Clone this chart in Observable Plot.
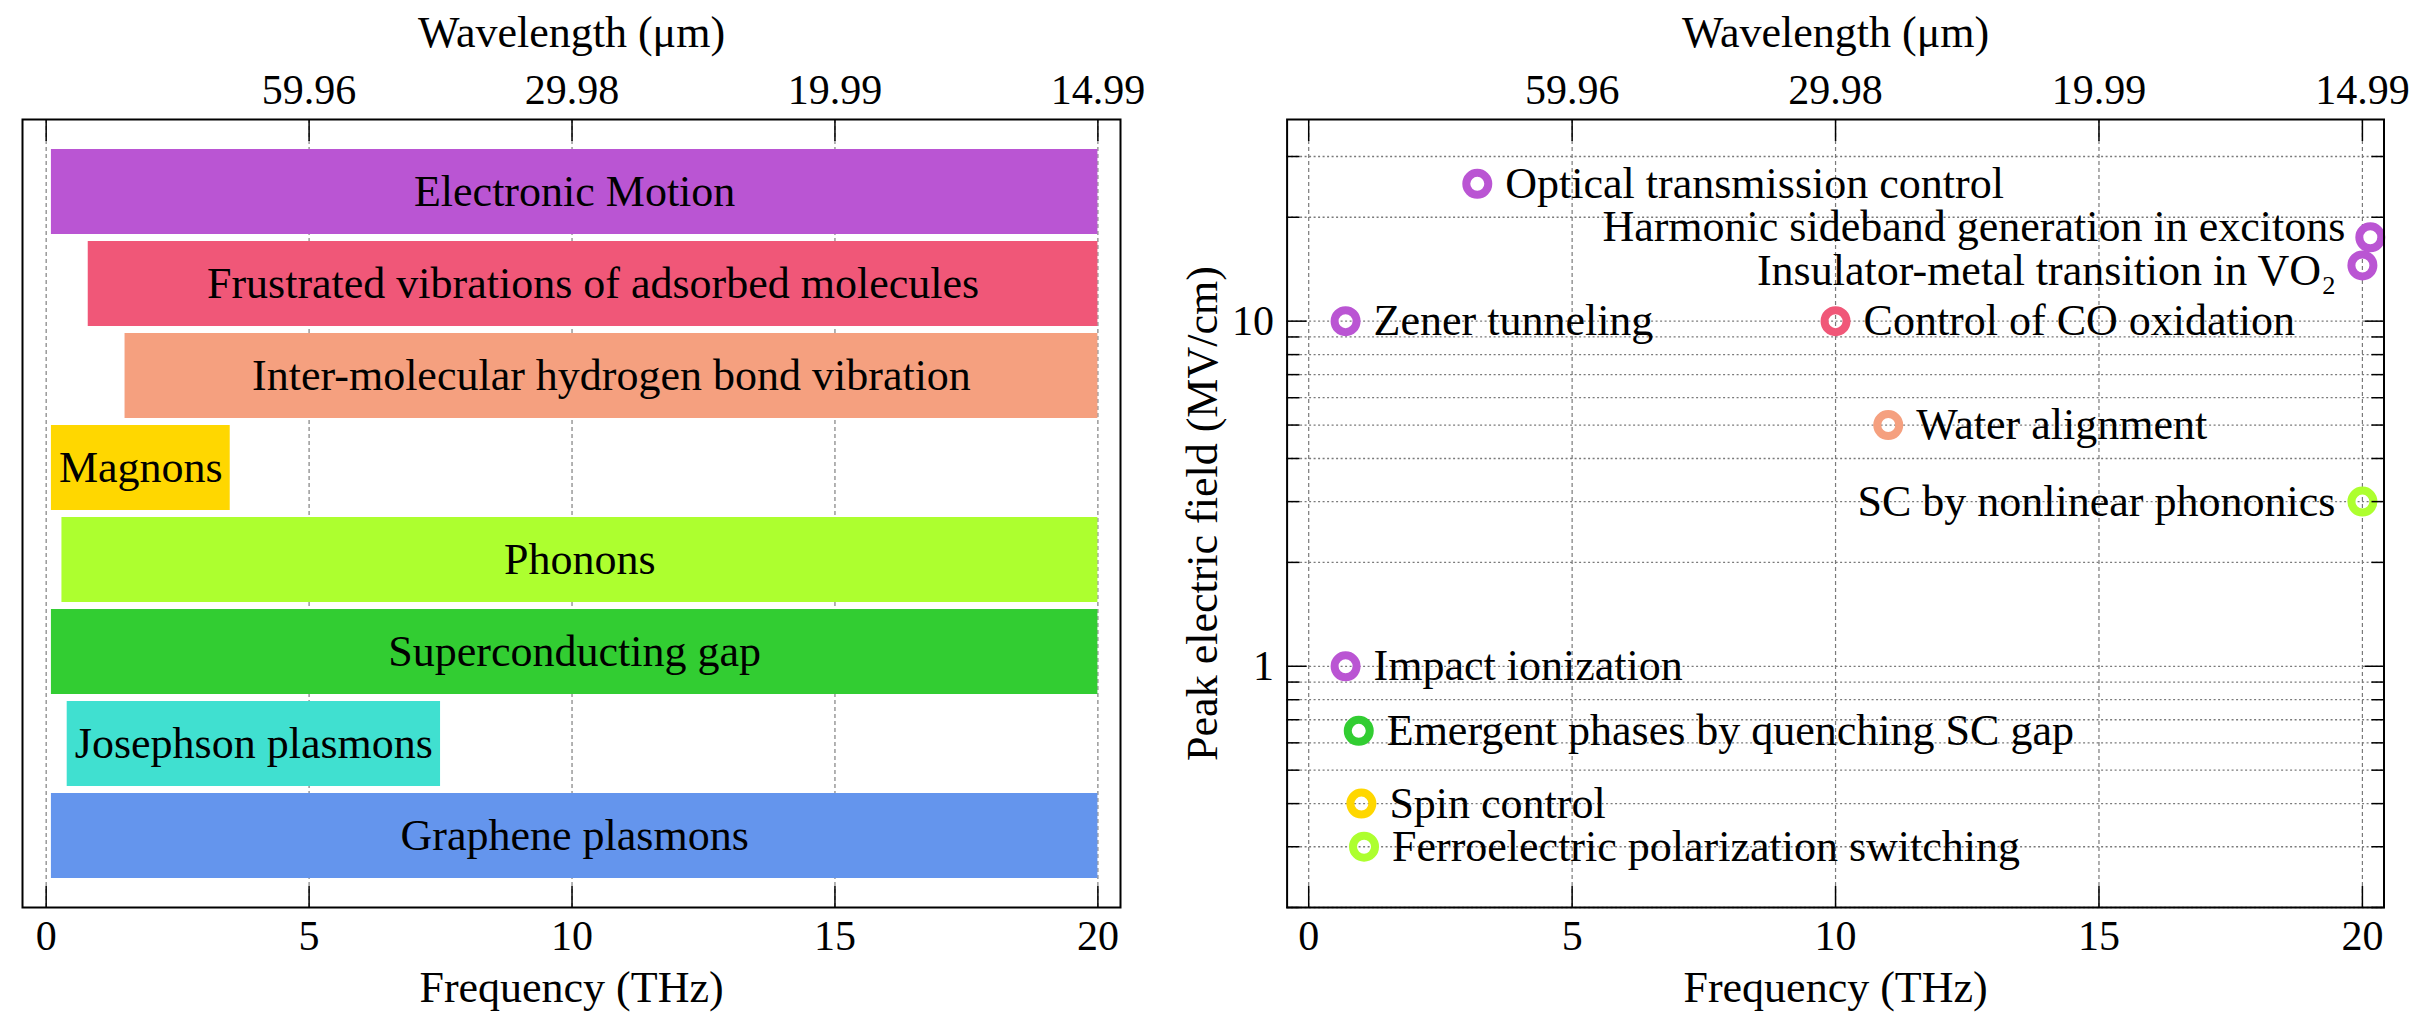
<!DOCTYPE html>
<html><head><meta charset="utf-8">
<script src="https://cdn.jsdelivr.net/npm/d3@7"></script>
<script src="https://cdn.jsdelivr.net/npm/@observablehq/plot@0.6"></script>
<style>
html,body{margin:0;padding:0;background:#fff;}
#wrap{display:flex;width:2410px;height:1020px;}
</style></head><body><div id="wrap"></div>
<script>
// ---- Left panel data: frequency ranges of excitations ----
const bandNames = ["Electronic Motion", "Frustrated vibrations of adsorbed molecules", "Inter-molecular hydrogen bond vibration", "Magnons", "Phonons", "Superconducting gap", "Josephson plasmons", "Graphene plasmons"];
const bandStart = [0.1, 0.8, 1.5, 0.1, 0.3, 0.1, 0.4, 0.1];
const bandEnd   = [20, 20, 20, 3.5, 20, 20, 7.5, 20];
const bandColors = ["#BA55D3", "#F05778", "#F5A07F", "#FFD700", "#ADFF2F", "#32CD32", "#40E0D0", "#6495ED"];

// ---- Right panel data: experiments ----
const ptNames = ["Optical transmission control", "Harmonic sideband generation in excitons", "Insulator-metal transition in VO\u2082", "Zener tunneling", "Control of CO oxidation", "Water alignment", "SC by nonlinear phononics", "Impact ionization", "Emergent phases by quenching SC gap", "Spin control", "Ferroelectric polarization switching"];
const ptFreq  = [3.2, 20.15, 20.0, 0.7, 10.0, 11.0, 20.0, 0.7, 0.95, 1.0, 1.05];
const ptField = [25, 17.5, 14.5, 10, 10, 5, 3, 1, 0.65, 0.4, 0.3];
const ptColors = ["#BA55D3", "#BA55D3", "#BA55D3", "#BA55D3", "#F05778", "#F5A07F", "#ADFF2F", "#BA55D3", "#32CD32", "#FFD700", "#ADFF2F"];

// ---- Ticks ----
const xTicks = [0, 5, 10, 15, 20];
const wlTicks = [5, 10, 15, 20];
const wlLabels = ["59.96", "29.98", "19.99", "14.99"];
const yMajor = [1, 10];
const yLabels = ["1", "10"];
const yMinor = [0.2, 0.3, 0.4, 0.5, 0.6, 0.7, 0.8, 0.9, 2, 3, 4, 5, 6, 7, 8, 9, 20, 30];

const xTitle = "Frequency (THz)";
const topTitle = "Wavelength (\u03bcm)";
const yTitle = "Peak electric field (MV/cm)";

const FONT = "Liberation Serif";
const bands = bandNames.map((name, i) => ({name, start: bandStart[i], end: bandEnd[i], color: bandColors[i]}));
const pts = ptNames.map((name, i) => ({name, x: ptFreq[i], y: ptField[i], color: ptColors[i]}));

const common = {
  height: 1020, marginTop: 119, marginBottom: 113,
  style: {fontFamily: FONT, background: "white", color: "black"}
};
const tickStyle = {fill: "none", stroke: "black", strokeWidth: 1.5};

function xAxes() {
  return [
    Plot.axisX(xTicks, {anchor: "bottom", tickSize: 21, dy: -21, ...tickStyle}),
    Plot.axisX(xTicks, {anchor: "top", tickSize: 21, dy: 21, ...tickStyle}),
    Plot.axisX(xTicks, {anchor: "bottom", tickSize: 0, tickPadding: 13, fontSize: 42, label: null, tickFormat: d => String(d)}),
    Plot.axisX(wlTicks, {anchor: "top", tickSize: 0, tickPadding: 16, fontSize: 42, label: null, tickFormat: d => wlLabels[wlTicks.indexOf(d)]}),
    Plot.text([xTitle], {text: d => d, frameAnchor: "bottom", textAnchor: "middle", dy: 80, fontSize: 44, lineAnchor: "middle", fill: "black"}),
    Plot.text([topTitle], {text: d => d, frameAnchor: "top", textAnchor: "middle", dy: -87, fontSize: 44, lineAnchor: "middle", fill: "black"})
  ];
}

const left = Plot.plot({
  ...common, width: 1150, marginLeft: 22, marginRight: 30,
  x: {domain: [-0.45, 20.43]},
  y: {domain: bandNames, paddingInner: 0.08, paddingOuter: 0.3, axis: null},
  color: {type: "identity"},
  marks: [
    Plot.gridX(xTicks, {stroke: "#808080", strokeOpacity: 1, strokeWidth: 1.2, strokeDasharray: "4,3"}),
    Plot.barX(bands, {y: "name", x1: "start", x2: "end", fill: "color"}),
    Plot.text(bands, {y: "name", x: d => (d.start + d.end) / 2, text: "name", fontSize: 44, lineAnchor: "middle", fill: "black"}),
    ...xAxes(),
    Plot.frame({stroke: "black", strokeWidth: 2})
  ]
});

const isHarmonic = d => d.name.startsWith("Harmonic");
const isVO2 = d => d.name.startsWith("Insulator");

const right = Plot.plot({
  ...common, width: 1260, marginLeft: 136.6, marginRight: 26.5,
  x: {domain: [-0.41, 20.41]},
  y: {type: "log", domain: [0.2, 38.4]},
  color: {type: "identity"},
  marks: [
    Plot.gridY([...yMajor, ...yMinor], {stroke: "#7a7a7a", strokeOpacity: 1, strokeWidth: 1.3, strokeDasharray: "2,2.5"}),
    Plot.gridX(xTicks, {stroke: "#7a7a7a", strokeOpacity: 1, strokeWidth: 1.2, strokeDasharray: "4,3"}),
    Plot.dot(pts, {x: "x", y: "y", r: 11, stroke: "color", strokeWidth: 8, fill: "none"}),
    Plot.text(pts, {filter: d => d.x < 19.9, x: "x", y: "y", text: "name", textAnchor: "start", dx: 28, fontSize: 44, lineAnchor: "middle", fill: "black"}),
    Plot.text(pts, {filter: d => d.x >= 19.9 && !isHarmonic(d) && !isVO2(d), x: "x", y: "y", text: "name", textAnchor: "end", dx: -27, fontSize: 44, lineAnchor: "middle", fill: "black"}),
    Plot.text(pts, {filter: isHarmonic, x: "x", y: "y", text: "name", textAnchor: "end", dx: -25, dy: 4, fontSize: 44, lineAnchor: "bottom", fill: "black"}),
    Plot.text(pts, {filter: isVO2, x: "x", y: "y", text: "name", textAnchor: "end", dx: -26, dy: 5, fontSize: 44, lineAnchor: "middle", fill: "black"}),
    Plot.axisY(yMajor, {anchor: "left", tickSize: 20, dx: 20, ...tickStyle}),
    Plot.axisY(yMinor, {anchor: "left", tickSize: 13, dx: 13, ...tickStyle}),
    Plot.axisY(yMajor, {anchor: "right", tickSize: 20, dx: -20, ...tickStyle}),
    Plot.axisY(yMinor, {anchor: "right", tickSize: 13, dx: -13, ...tickStyle}),
    Plot.axisY(yMajor, {anchor: "left", tickSize: 0, tickPadding: 13, fontSize: 42, label: null, tickFormat: d => yLabels[yMajor.indexOf(d)]}),
    Plot.text([yTitle], {text: d => d, frameAnchor: "left", textAnchor: "middle", rotate: -90, dx: -84, fontSize: 44, lineAnchor: "middle", fill: "black"}),
    ...xAxes(),
    Plot.frame({stroke: "black", strokeWidth: 2})
  ]
});

document.getElementById("wrap").append(left, right);
</script>
</body></html>
